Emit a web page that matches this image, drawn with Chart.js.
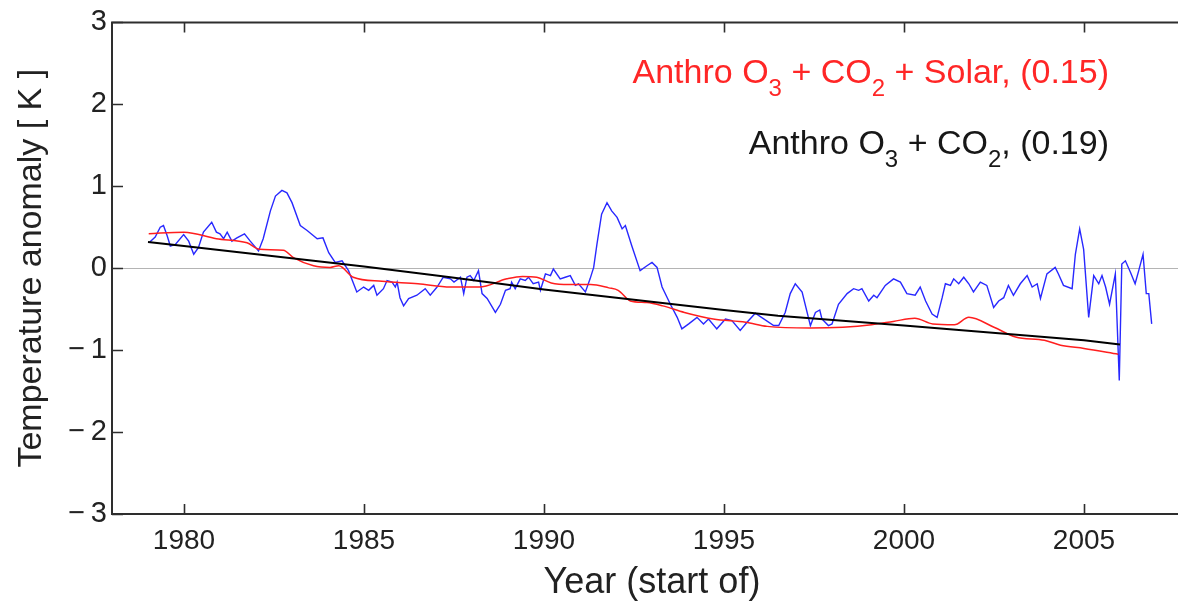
<!DOCTYPE html>
<html>
<head>
<meta charset="utf-8">
<script src="https://cdn.jsdelivr.net/npm/chart.js@4.4.1/dist/chart.umd.min.js"></script>
<style>
  html, body { margin: 0; padding: 0; background: #fff; overflow: hidden; width: 1178px; height: 602px; }
  #wrap { position: absolute; left: 0; top: 0; width: 1210px; height: 602px; }
</style>
</head>
<body>
<div id="wrap"><canvas id="c" width="1210" height="602"></canvas></div>
<script>
// Observed monthly-ish temperature anomaly (blue)
const obsYears = [1979.05,1979.2,1979.34,1979.43,1979.53,1979.62,1979.76,1979.99,1980.13,1980.27,1980.4,1980.54,1980.77,1980.9,1981.0,1981.1,1981.2,1981.33,1981.47,1981.68,1981.84,1982.07,1982.2,1982.4,1982.54,1982.72,1982.86,1983.0,1983.23,1983.42,1983.7,1983.86,1984.02,1984.2,1984.39,1984.57,1984.8,1984.99,1985.13,1985.27,1985.36,1985.54,1985.64,1985.78,1985.87,1985.92,1986.0,1986.1,1986.24,1986.47,1986.7,1986.84,1987.03,1987.2,1987.4,1987.5,1987.68,1987.77,1987.86,1987.95,1988.05,1988.18,1988.28,1988.42,1988.65,1988.79,1988.93,1989.06,1989.1,1989.2,1989.34,1989.48,1989.57,1989.7,1989.85,1989.9,1990.04,1990.18,1990.26,1990.45,1990.59,1990.73,1990.87,1990.96,1991.15,1991.28,1991.38,1991.47,1991.6,1991.75,1991.88,1992.03,1992.17,1992.26,1992.44,1992.67,1992.86,1993.0,1993.14,1993.28,1993.51,1993.7,1993.83,1994.02,1994.25,1994.43,1994.57,1994.8,1995.04,1995.22,1995.45,1995.64,1995.87,1996.01,1996.38,1996.52,1996.7,1996.84,1996.98,1997.17,1997.4,1997.54,1997.66,1997.72,1997.9,1998.0,1998.18,1998.42,1998.6,1998.74,1998.83,1999.02,1999.16,1999.25,1999.48,1999.71,1999.9,2000.08,2000.31,2000.45,2000.6,2000.78,2000.92,2001.06,2001.15,2001.29,2001.38,2001.52,2001.66,2001.8,2001.93,2002.12,2002.3,2002.49,2002.63,2002.77,2002.9,2003.04,2003.23,2003.42,2003.56,2003.7,2003.79,2003.97,2004.2,2004.29,2004.43,2004.67,2004.76,2004.88,2004.99,2005.13,2005.27,2005.41,2005.5,2005.6,2005.71,2005.87,2005.98,2006.05,2006.15,2006.29,2006.42,2006.52,2006.64,2006.73,2006.8,2006.88];
const obsValues = [0.32,0.38,0.50,0.52,0.40,0.27,0.29,0.41,0.33,0.17,0.25,0.44,0.56,0.44,0.42,0.36,0.44,0.33,0.37,0.42,0.33,0.21,0.36,0.70,0.88,0.95,0.92,0.80,0.52,0.46,0.36,0.37,0.19,0.07,0.09,-0.03,-0.29,-0.23,-0.27,-0.21,-0.33,-0.25,-0.15,-0.17,-0.23,-0.17,-0.36,-0.46,-0.37,-0.33,-0.25,-0.33,-0.23,-0.11,-0.13,-0.17,-0.11,-0.31,-0.11,-0.09,-0.15,-0.03,-0.31,-0.37,-0.54,-0.44,-0.27,-0.25,-0.17,-0.25,-0.13,-0.15,-0.11,-0.19,-0.17,-0.27,-0.07,-0.09,-0.01,-0.13,-0.11,-0.09,-0.21,-0.19,-0.29,-0.13,0.01,0.29,0.66,0.80,0.70,0.62,0.48,0.52,0.27,-0.03,0.03,0.07,0.01,-0.23,-0.44,-0.60,-0.74,-0.68,-0.60,-0.68,-0.62,-0.74,-0.62,-0.64,-0.76,-0.66,-0.55,-0.59,-0.70,-0.70,-0.54,-0.31,-0.19,-0.29,-0.70,-0.54,-0.51,-0.62,-0.70,-0.68,-0.44,-0.31,-0.25,-0.27,-0.25,-0.40,-0.33,-0.36,-0.21,-0.13,-0.17,-0.31,-0.33,-0.23,-0.40,-0.56,-0.60,-0.36,-0.19,-0.21,-0.13,-0.19,-0.11,-0.19,-0.29,-0.17,-0.21,-0.48,-0.40,-0.36,-0.21,-0.33,-0.19,-0.09,-0.23,-0.19,-0.37,-0.07,0.01,-0.07,-0.21,-0.25,0.17,0.48,0.23,-0.60,-0.09,-0.19,-0.09,-0.23,-0.44,-0.07,-1.37,0.05,0.09,-0.05,-0.19,-0.03,0.17,-0.31,-0.31,-0.68];

// Model run: anthropogenic O3 + CO2 + solar (red)
const solarYears = [1979.02,1980.0,1980.9,1981.75,1982.1,1982.76,1983.04,1983.6,1984.06,1984.3,1984.7,1985.5,1986.5,1987.4,1988.2,1988.97,1989.4,1989.8,1990.2,1990.7,1991.3,1991.8,1992.06,1992.4,1992.86,1993.3,1993.9,1994.7,1995.6,1996.2,1997.4,1998.3,1999.1,1999.7,2000.3,2000.8,2001.4,2001.8,2002.5,2003.1,2003.9,2004.35,2005.0,2005.95];
const solarValues = [0.42,0.44,0.36,0.31,0.23,0.22,0.13,0.03,0.01,0.03,-0.11,-0.16,-0.19,-0.23,-0.23,-0.13,-0.10,-0.11,-0.18,-0.20,-0.20,-0.24,-0.27,-0.40,-0.42,-0.46,-0.54,-0.62,-0.66,-0.71,-0.73,-0.72,-0.69,-0.65,-0.61,-0.68,-0.69,-0.60,-0.72,-0.84,-0.88,-0.94,-0.98,-1.05];

// Model run: anthropogenic O3 + CO2 only (black)
const anthroYears = [1979.0,1980.0,1985.0,1987.4,1990.0,1995.0,1996.5,2000.0,2005.0,2006.0];
const anthroValues = [0.32,0.27,0.02,-0.11,-0.26,-0.51,-0.58,-0.70,-0.88,-0.93];

// Axis ticks
const xTickYears = [1980, 1985, 1990, 1995, 2000, 2005];
const yTickValues = [-3, -2, -1, 0, 1, 2, 3];

// Annotation texts: [text, isSubscript]
const solarLabel = [['Anthro O', false], ['3', true], [' + CO', false], ['2', true], [' + Solar, (0.15)', false]];
const anthroLabel = [['Anthro O', false], ['3', true], [' + CO', false], ['2', true], [', (0.19)', false]];

const FONT = '"Liberation Sans", Arial, Helvetica, sans-serif';

function pts(xs, ys) { return xs.map((x, i) => ({ x: x, y: ys[i] })); }

// Frame on the left, top and bottom sides with inward tick marks
const framePlugin = {
  id: 'frame',
  afterDatasetsDraw(chart) {
    const { ctx, chartArea: a, scales: { x, y } } = chart;
    const right = chart.width;
    ctx.save();
    ctx.strokeStyle = '#2e2e2e';
    ctx.lineWidth = 2;
    ctx.beginPath();
    ctx.moveTo(right, a.top); ctx.lineTo(a.left, a.top);
    ctx.lineTo(a.left, a.bottom); ctx.lineTo(right, a.bottom);
    ctx.stroke();
    ctx.lineWidth = 1.6;
    ctx.beginPath();
    xTickYears.forEach(v => {
      const px = Math.round(x.getPixelForValue(v)) + 0.5;
      ctx.moveTo(px, a.bottom); ctx.lineTo(px, a.bottom - 10);
      ctx.moveTo(px, a.top); ctx.lineTo(px, a.top + 10);
    });
    yTickValues.forEach(v => {
      const py = Math.round(y.getPixelForValue(v)) + 0.5;
      ctx.moveTo(a.left, py); ctx.lineTo(a.left + 11, py);
    });
    ctx.stroke();
    ctx.restore();
  }
};

// Run descriptions with subscripts, right-aligned
const labelPlugin = {
  id: 'runLabels',
  afterDraw(chart) {
    const ctx = chart.ctx;
    const mainFont = '34px ' + FONT;
    const subFont = '24px ' + FONT;
    function drawLabel(parts, rightX, baseY, color) {
      ctx.save();
      ctx.fillStyle = color;
      ctx.textBaseline = 'alphabetic';
      ctx.textAlign = 'left';
      let total = 0;
      parts.forEach(([t, sub]) => { ctx.font = sub ? subFont : mainFont; total += ctx.measureText(t).width; });
      let xPos = rightX - total;
      parts.forEach(([t, sub]) => {
        ctx.font = sub ? subFont : mainFont;
        ctx.fillText(t, xPos, sub ? baseY + 13 : baseY);
        xPos += ctx.measureText(t).width;
      });
      ctx.restore();
    }
    drawLabel(solarLabel, 1109, 83, 'rgb(255,38,38)');
    drawLabel(anthroLabel, 1109, 154, '#171717');
  }
};

new Chart(document.getElementById('c'), {
  type: 'line',
  data: {
    datasets: [
      { label: 'Anthro O3 + CO2', data: pts(anthroYears, anthroValues), borderColor: '#000', borderWidth: 2, pointRadius: 0, tension: 0 },
      { label: 'Anthro O3 + CO2 + Solar', data: pts(solarYears, solarValues), borderColor: 'rgb(255,30,30)', borderWidth: 1.5, pointRadius: 0, tension: 0.3, cubicInterpolationMode: 'monotone' },
      { label: 'Observed', data: pts(obsYears, obsValues), borderColor: 'rgb(40,40,255)', borderWidth: 1.4, pointRadius: 0, tension: 0 }
    ]
  },
  options: {
    responsive: false,
    animation: false,
    devicePixelRatio: 1,
    layout: { padding: { left: 0, right: 18, top: 21, bottom: 0 } },
    plugins: { legend: { display: false }, tooltip: { enabled: false } },
    scales: {
      x: {
        type: 'linear',
        min: 1978, max: 2008,
        afterBuildTicks: s => { s.ticks = xTickYears.map(v => ({ value: v })); },
        afterFit: s => { s.height = 88; },
        grid: { display: false, drawTicks: false },
        border: { display: false },
        ticks: { color: '#222', font: { family: FONT, size: 28, lineHeight: 1.2 }, padding: 10, maxRotation: 0, callback: v => String(v) },
        title: { display: true, text: 'Year (start of)', color: '#222', font: { family: FONT, size: 36, lineHeight: 1.0 }, padding: { top: 0, bottom: 1 } }
      },
      y: {
        type: 'linear',
        min: -3, max: 3,
        afterBuildTicks: s => { s.ticks = yTickValues.map(v => ({ value: v })); },
        afterFit: s => { s.width = 112; },
        grid: {
          drawTicks: false,
          lineWidth: 1,
          color: c => (c.tick && c.tick.value === 0) ? '#b4b4b4' : 'rgba(0,0,0,0)'
        },
        border: { display: false },
        ticks: { color: '#222', font: { family: FONT, size: 29, lineHeight: 1.2 }, padding: 5, callback: v => v < 0 ? '\u2212\u2009' + Math.abs(v) : String(v) },
        title: { display: true, text: 'Temperature anomaly [ K ]', color: '#222', font: { family: FONT, size: 34, lineHeight: 1.2 }, padding: { top: 11, bottom: 0 } }
      }
    }
  },
  plugins: [framePlugin, labelPlugin]
});
</script>
</body>
</html>
